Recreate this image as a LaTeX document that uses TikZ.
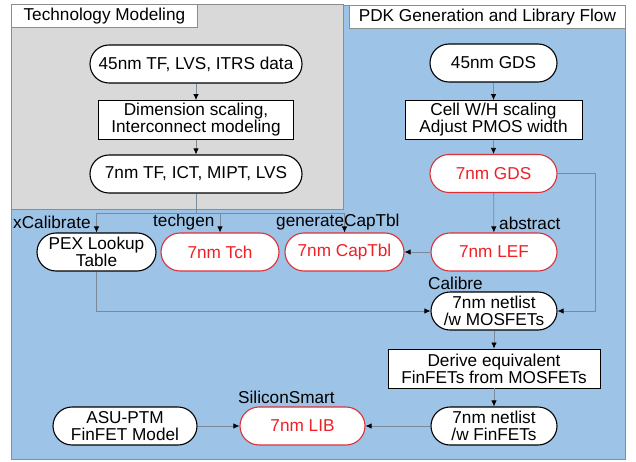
\documentclass[tikz,border=0pt]{standalone}
\usepackage{fontspec}
\setmainfont{Liberation Sans}
\usetikzlibrary{arrows.meta,calc}
\definecolor{panelblue}{HTML}{9DC3E6}
\definecolor{panelgrey}{HTML}{D9D9D9}
\definecolor{panelborder}{HTML}{8C8C8C}
\definecolor{connc}{HTML}{7A8A9A}
\definecolor{redb}{HTML}{DC3038}
\definecolor{redt}{HTML}{EE2026}
\begin{document}
\begin{tikzpicture}[x=1pt,y=-1pt,
  every node/.style={font=\fontsize{17.2}{17}\selectfont},
  pill/.style={draw=black, line width=1.1pt, fill=white, rounded corners=19pt, minimum height=38pt, inner sep=0pt, align=center},
  redpill/.style={pill, draw=redb, text=redt},
  stepbox/.style={draw=black, line width=0.9pt, fill=white, minimum height=39pt, inner sep=0pt, align=center},
  titlebox/.style={draw=panelborder, line width=0.8pt, fill=white, inner sep=0pt, anchor=north west, minimum height=23pt},
  lbl/.style={inner sep=0pt},
  conn/.style={draw=connc, line width=0.8pt},
  arr/.style={conn, -{Latex[length=6pt,width=5.5pt,color=black]}}
]
\useasboundingbox (0,0) rectangle (636,462);
% panels
\path[fill=panelblue, draw=panelborder, line width=0.8pt] (11,5) rectangle (625,459);
\path[fill=panelgrey, draw=panelborder, line width=0.8pt] (11,4) rectangle (343,209);
\node[titlebox, minimum width=186pt] (ttech) at (11,4) {Technology Modeling};
\node[titlebox, minimum width=276pt] (tpdk) at (349,5) {PDK Generation and Library Flow};

% technology modeling
\node[pill, minimum width=212pt] (tf45) at (196,64) {45nm TF, LVS, ITRS data};
\node[stepbox, minimum width=195pt] (dim) at (196,120) {Dimension scaling,\\Interconnect modeling};
\node[pill, minimum width=212pt] (tf7) at (196,174) {7nm TF, ICT, MIPT, LVS};

% PDK flow
\node[pill, minimum width=127pt] (gds45) at (493.5,63) {45nm GDS};
\node[stepbox, minimum width=177pt] (cell) at (493.5,120) {Cell W/H scaling\\Adjust PMOS width};
\node[redpill, minimum width=127pt] (gds7) at (493.5,173.5) {7nm GDS};
\node[redpill, minimum width=126pt] (lef) at (494,252) {7nm LEF};
\node[redpill, minimum width=119pt] (cap) at (344.5,252) {7nm CapTbl};
\node[redpill, minimum width=118pt] (tch) at (220,252) {7nm Tch};
\node[pill, minimum width=119pt] (pex) at (96.5,252) {PEX Lookup\\Table};
\node[pill, minimum width=126pt] (mos) at (494,311) {7nm netlist\\/w MOSFETs};
\node[stepbox, minimum width=212pt] (derive) at (494,368.5) {Derive equivalent\\FinFETs from MOSFETs};
\node[pill, minimum width=126pt] (fin) at (494,426) {7nm netlist\\/w FinFETs};
\node[redpill, minimum width=125pt] (lib) at (302.5,426) {7nm LIB};
\node[pill, minimum width=144pt] (asu) at (125,426) {ASU-PTM\\FinFET Model};

% labels
\node[lbl, anchor=west] (lxcal) at (13,222) {xCalibrate};
\node[lbl, anchor=west] (ltech) at (153,222) {techgen};
\node[lbl, anchor=west] (lgen) at (276,222.5) {generateCapTbl};
\node[lbl, anchor=west] (labs) at (499,223) {abstract};
\node[lbl, anchor=west] (lcal) at (428,283) {Calibre};
\node[lbl, anchor=west] (lsil) at (238,397) {SiliconSmart};

% connectors
\draw[arr] (tf45) -- (dim);
\draw[arr] (dim) -- (tf7);
\coordinate (jn) at (196,213.5);
\draw[conn] (tf7.south) -- (jn);
\draw[arr] (jn) -| (pex.north);
\draw[arr] (jn) -| (tch.north);
\draw[arr] (jn) -| (cap.north);

\draw[arr] (gds45) -- (cell);
\draw[arr] (cell) -- (gds7);
\draw[arr] (gds7) -- (lef);
\coordinate (rt) at (595,173.5);
\draw[arr] (gds7.east) -- (rt) |- (mos.east);
\draw[arr] (lef) -- (cap);
\draw[arr] (pex.south) |- (mos.west);
\draw[arr] (mos) -- (derive);
\draw[arr] (derive) -- (fin);
\draw[arr] (fin) -- (lib);
\draw[arr] (asu) -- (lib);
\end{tikzpicture}
\end{document}
